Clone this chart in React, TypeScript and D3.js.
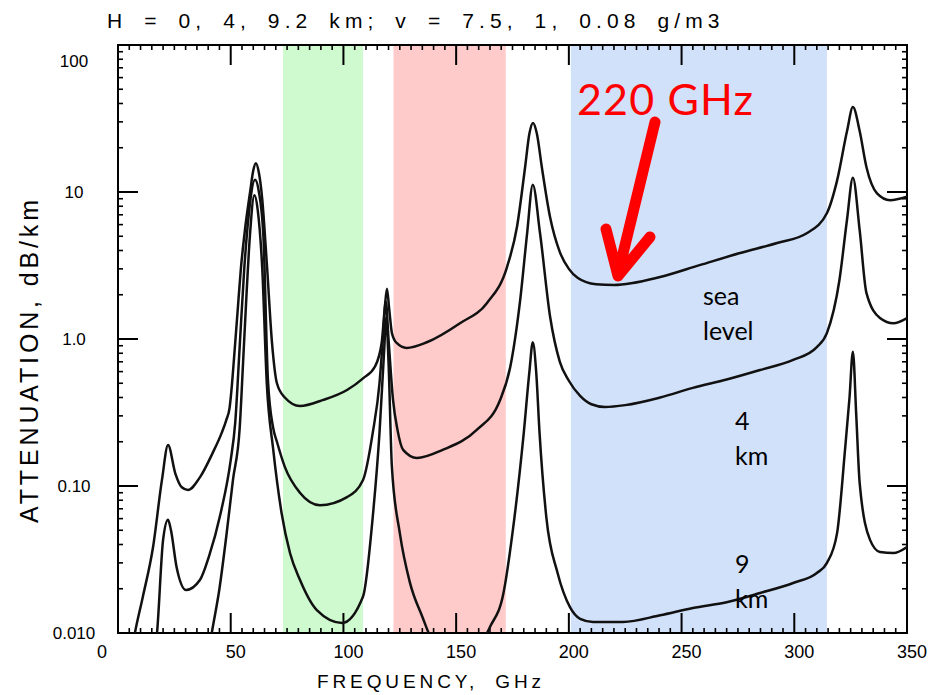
import React from 'react';
import * as d3 from 'd3';

// ---- data ----
const seaFreq = [5, 7.5, 11, 15.5, 19.5, 22.2, 25.4, 28.3, 31, 36.4, 42, 46, 48, 49.5, 50.5, 51.5, 53, 54.5, 56.3, 58.6, 60, 61.2, 62.5, 63.9, 66, 68.3, 70.5, 74, 80.7, 91, 101.6, 108.7, 114, 117, 118.3, 119.3, 120.3, 121.5, 123.6, 128, 137, 151.7, 163.7, 172.6, 177, 180.6, 182.5, 184.1, 185.8, 188, 191.7, 196, 200, 204, 212, 220, 240.5, 258, 276, 292.4, 305.7, 314.5, 319, 323.4, 326, 329, 332, 336.7, 342.5, 350];
const seaAtten = [0.006, 0.01, 0.0176, 0.038, 0.11, 0.19, 0.122, 0.098, 0.094, 0.115, 0.168, 0.23, 0.28, 0.34, 0.48, 0.75, 1.5, 3.0, 5.5, 10, 14, 15.7, 13.5, 9.2, 3.3, 0.95, 0.5, 0.4, 0.35, 0.385, 0.45, 0.54, 0.65, 0.95, 1.6, 2.2, 1.6, 1.1, 0.94, 0.87, 0.95, 1.28, 1.76, 3.1, 5.8, 14.8, 25, 29.5, 25, 14.8, 6.7, 3.9, 3.0, 2.6, 2.36, 2.33, 2.64, 3.18, 3.85, 4.5, 5.26, 7.2, 12, 26, 37.8, 26, 14.8, 9.8, 8.8, 9.3];

const km4Freq = [15, 17.3, 20, 22.2, 23.5, 26, 30.2, 36.4, 40.3, 45.5, 50, 52, 54, 56, 58, 60.8, 62.5, 64.5, 66.5, 68.8, 70.5, 74, 80.7, 89.6, 101.6, 108.7, 113, 116, 117.5, 118.8, 120, 122, 124, 126.5, 132.6, 144, 159, 169.5, 174, 178.4, 181.5, 184, 187.2, 191.7, 196, 200, 205, 210, 216, 225, 240.5, 255, 270, 284.8, 299.5, 310, 314.5, 320, 323.4, 326, 329, 332, 338, 344, 350];
const km4Atten = [0.006, 0.01, 0.043, 0.059, 0.05, 0.028, 0.0196, 0.023, 0.033, 0.065, 0.15, 0.27, 0.9, 3, 7, 12.1, 10, 5, 0.53, 0.25, 0.2, 0.135, 0.09, 0.074, 0.084, 0.11, 0.23, 0.5, 1.0, 1.8, 1.0, 0.385, 0.24, 0.176, 0.155, 0.176, 0.24, 0.385, 0.645, 1.84, 5.26, 11.2, 5.26, 1.41, 0.7, 0.52, 0.41, 0.36, 0.345, 0.355, 0.4, 0.465, 0.53, 0.615, 0.72, 0.88, 1.1, 2.5, 6.5, 12.5, 5.5, 2.06, 1.39, 1.28, 1.39];

const km9Freq = [40, 41.6, 45, 48, 51, 54, 55.5, 57, 58.5, 60.5, 62, 64, 66, 68.8, 72.6, 76.3, 80.7, 88.2, 99.4, 108.7, 113, 116, 118, 119, 120, 121.5, 125, 129.5, 135, 140, 150, 160, 165, 171, 175, 180, 182.5, 184, 185.5, 187, 190, 195, 200.5, 205, 210.7, 224, 240.5, 255, 270, 284.8, 299.5, 310, 314.5, 319, 322.5, 324.5, 326, 327.5, 329, 333.6, 338, 344, 350];
const km9Atten = [0.007, 0.01, 0.02, 0.045, 0.11, 0.25, 0.7, 2.0, 5, 9.5, 7.5, 3, 0.5, 0.18, 0.065, 0.035, 0.023, 0.0143, 0.0117, 0.0177, 0.0615, 0.23, 0.8, 1.4, 0.7, 0.135, 0.048, 0.022, 0.0129, 0.0085, 0.0065, 0.008, 0.011, 0.0187, 0.048, 0.23, 0.6, 0.95, 0.6, 0.23, 0.0615, 0.0256, 0.015, 0.0125, 0.0119, 0.0119, 0.0132, 0.0148, 0.0162, 0.0187, 0.0219, 0.0256, 0.03, 0.048, 0.176, 0.4, 0.82, 0.3, 0.105, 0.043, 0.0356, 0.035, 0.0385];

const xTicks = [0, 50, 100, 150, 200, 250, 300, 350];
const xTickLabels = ['0', '50', '100', '150', '200', '250', '300', '350'];
const yTicks = [0.01, 0.1, 1, 10, 100];
const yTickLabels = ['0.010', '0.10', '1.0', '10', '100'];

const bandStart = [73.2, 122.2, 200.9];
const bandEnd = [108.7, 172, 314.5];
const bandColors = ['#cff9cf', '#ffcaca', '#d2e1fa'];

const titleText = 'H = 0, 4, 9.2 km; v = 7.5, 1, 0.08 g/m3';
const xTitle = 'FREQUENCY, GHz';
const yTitle = 'ATTENUATION, dB/km';
const annotationText = '220 GHz';

export default function App() {
  const W = 932, H = 695;
  const L = 118, R = 907, T = 45, B = 633;
  const x = d3.scaleLinear().domain([0, 350]).range([L, R]);
  const y = d3.scaleLog().domain([0.01, 100]).range([B, T]);

  const line = d3.line<[number, number]>()
    .x(d => x(d[0]))
    .y(d => y(d[1]))
    .curve(d3.curveMonotoneX);

  const series = [
    seaFreq.map((f, i) => [f, seaAtten[i]] as [number, number]),
    km4Freq.map((f, i) => [f, km4Atten[i]] as [number, number]),
    km9Freq.map((f, i) => [f, km9Atten[i]] as [number, number]),
  ];

  const xMinor = d3.range(0, 351, 5).filter(v => v % 50 !== 0);
  const yMinor: number[] = [];
  [0.01, 0.1, 1, 10].forEach(d => { for (let k = 2; k <= 9; k++) yMinor.push(d * k); });

  const tickFont = '"Liberation Sans", Arial, sans-serif';
  const labFont = 'Lato, "Open Sans", sans-serif';

  return (
    <svg width={W} height={H} style={{ position: 'absolute', left: 0, top: 0, background: '#fff' }}>
      <defs>
        <clipPath id="plotclip">
          <rect x={L} y={T} width={R - L} height={B - T} />
        </clipPath>
      </defs>
      {bandStart.map((s, i) => (
        <rect key={i} x={x(s)} y={T} width={x(bandEnd[i]) - x(s)} height={B - T} fill={bandColors[i]} />
      ))}

      {/* frame */}
      <rect x={L} y={T} width={R - L} height={B - T} fill="none" stroke="#000" strokeWidth={2} />

      {/* x ticks bottom/top */}
      {xTicks.map(t => (
        <g key={'xt' + t}>
          <line x1={x(t)} x2={x(t)} y1={B} y2={B - 20} stroke="#000" strokeWidth={2} />
          <line x1={x(t)} x2={x(t)} y1={T} y2={T + 20} stroke="#000" strokeWidth={2} />
        </g>
      ))}
      {xMinor.map(t => (
        <g key={'xm' + t}>
          <line x1={x(t)} x2={x(t)} y1={B} y2={B - 5} stroke="#000" strokeWidth={1.6} />
          <line x1={x(t)} x2={x(t)} y1={T} y2={T + 5} stroke="#000" strokeWidth={1.6} />
        </g>
      ))}
      {/* y ticks left/right */}
      {yTicks.map(t => (
        <g key={'yt' + t}>
          <line x1={L} x2={L + 20} y1={y(t)} y2={y(t)} stroke="#000" strokeWidth={2} />
          <line x1={R} x2={R - 20} y1={y(t)} y2={y(t)} stroke="#000" strokeWidth={2} />
        </g>
      ))}
      {yMinor.map(t => (
        <g key={'ym' + t}>
          <line x1={L} x2={L + 5} y1={y(t)} y2={y(t)} stroke="#000" strokeWidth={1.6} />
          <line x1={R} x2={R - 5} y1={y(t)} y2={y(t)} stroke="#000" strokeWidth={1.6} />
        </g>
      ))}

      {/* curves */}
      <g clipPath="url(#plotclip)">
        {series.map((s, i) => (
          <path key={i} d={line(s) || ''} fill="none" stroke="#111" strokeWidth={2.5} strokeLinejoin="round" />
        ))}
      </g>

      {/* tick labels */}
      {yTicks.map((t, i) => (
        <text key={'yl' + t} x={74} y={Math.max(y(t) + 6, 67)} textAnchor="middle" fontFamily={tickFont} fontSize={17}>
          {yTickLabels[i]}
        </text>
      ))}
      {xTicks.map((t, i) => (
        <text key={'xl' + t} x={i === 0 ? x(t) - 16 : x(t) + 5} y={658} textAnchor="middle" fontFamily={tickFont} fontSize={18}>
          {xTickLabels[i]}
        </text>
      ))}

      {/* titles */}
      <text x={107} y={28} fontFamily={tickFont} fontSize={21} letterSpacing={2.5} wordSpacing={6} textLength={615} lengthAdjust="spacing">{titleText}</text>
      <text x={317} y={688} fontFamily={tickFont} fontSize={19} letterSpacing={2} wordSpacing={8} textLength={226} lengthAdjust="spacing">{xTitle}</text>
      <text transform="translate(38,361.5) rotate(-90)" textAnchor="middle" fontFamily={tickFont} fontSize={25} textLength={323} lengthAdjust="spacing">{yTitle}</text>

      {/* curve labels */}
      <g fontFamily={labFont} fontSize={25} fill="#000">
        <text x={703} y={305}>sea</text>
        <text x={703} y={340}>level</text>
        <text x={735} y={430}>4</text>
        <text x={735} y={465}>km</text>
        <text x={735} y={573}>9</text>
        <text x={735} y={608}>km</text>
      </g>

      {/* annotation */}
      <text x={577} y={115} fontFamily={labFont} fontSize={43} fill="#ff0000" textLength={176} lengthAdjust="spacing">{annotationText}</text>
      <path d="M655,122 L618,274 M606,229 L618,276 L650,237" fill="none" stroke="#ff0000" strokeWidth={11} strokeLinecap="round" strokeLinejoin="round" />
    </svg>
  );
}
